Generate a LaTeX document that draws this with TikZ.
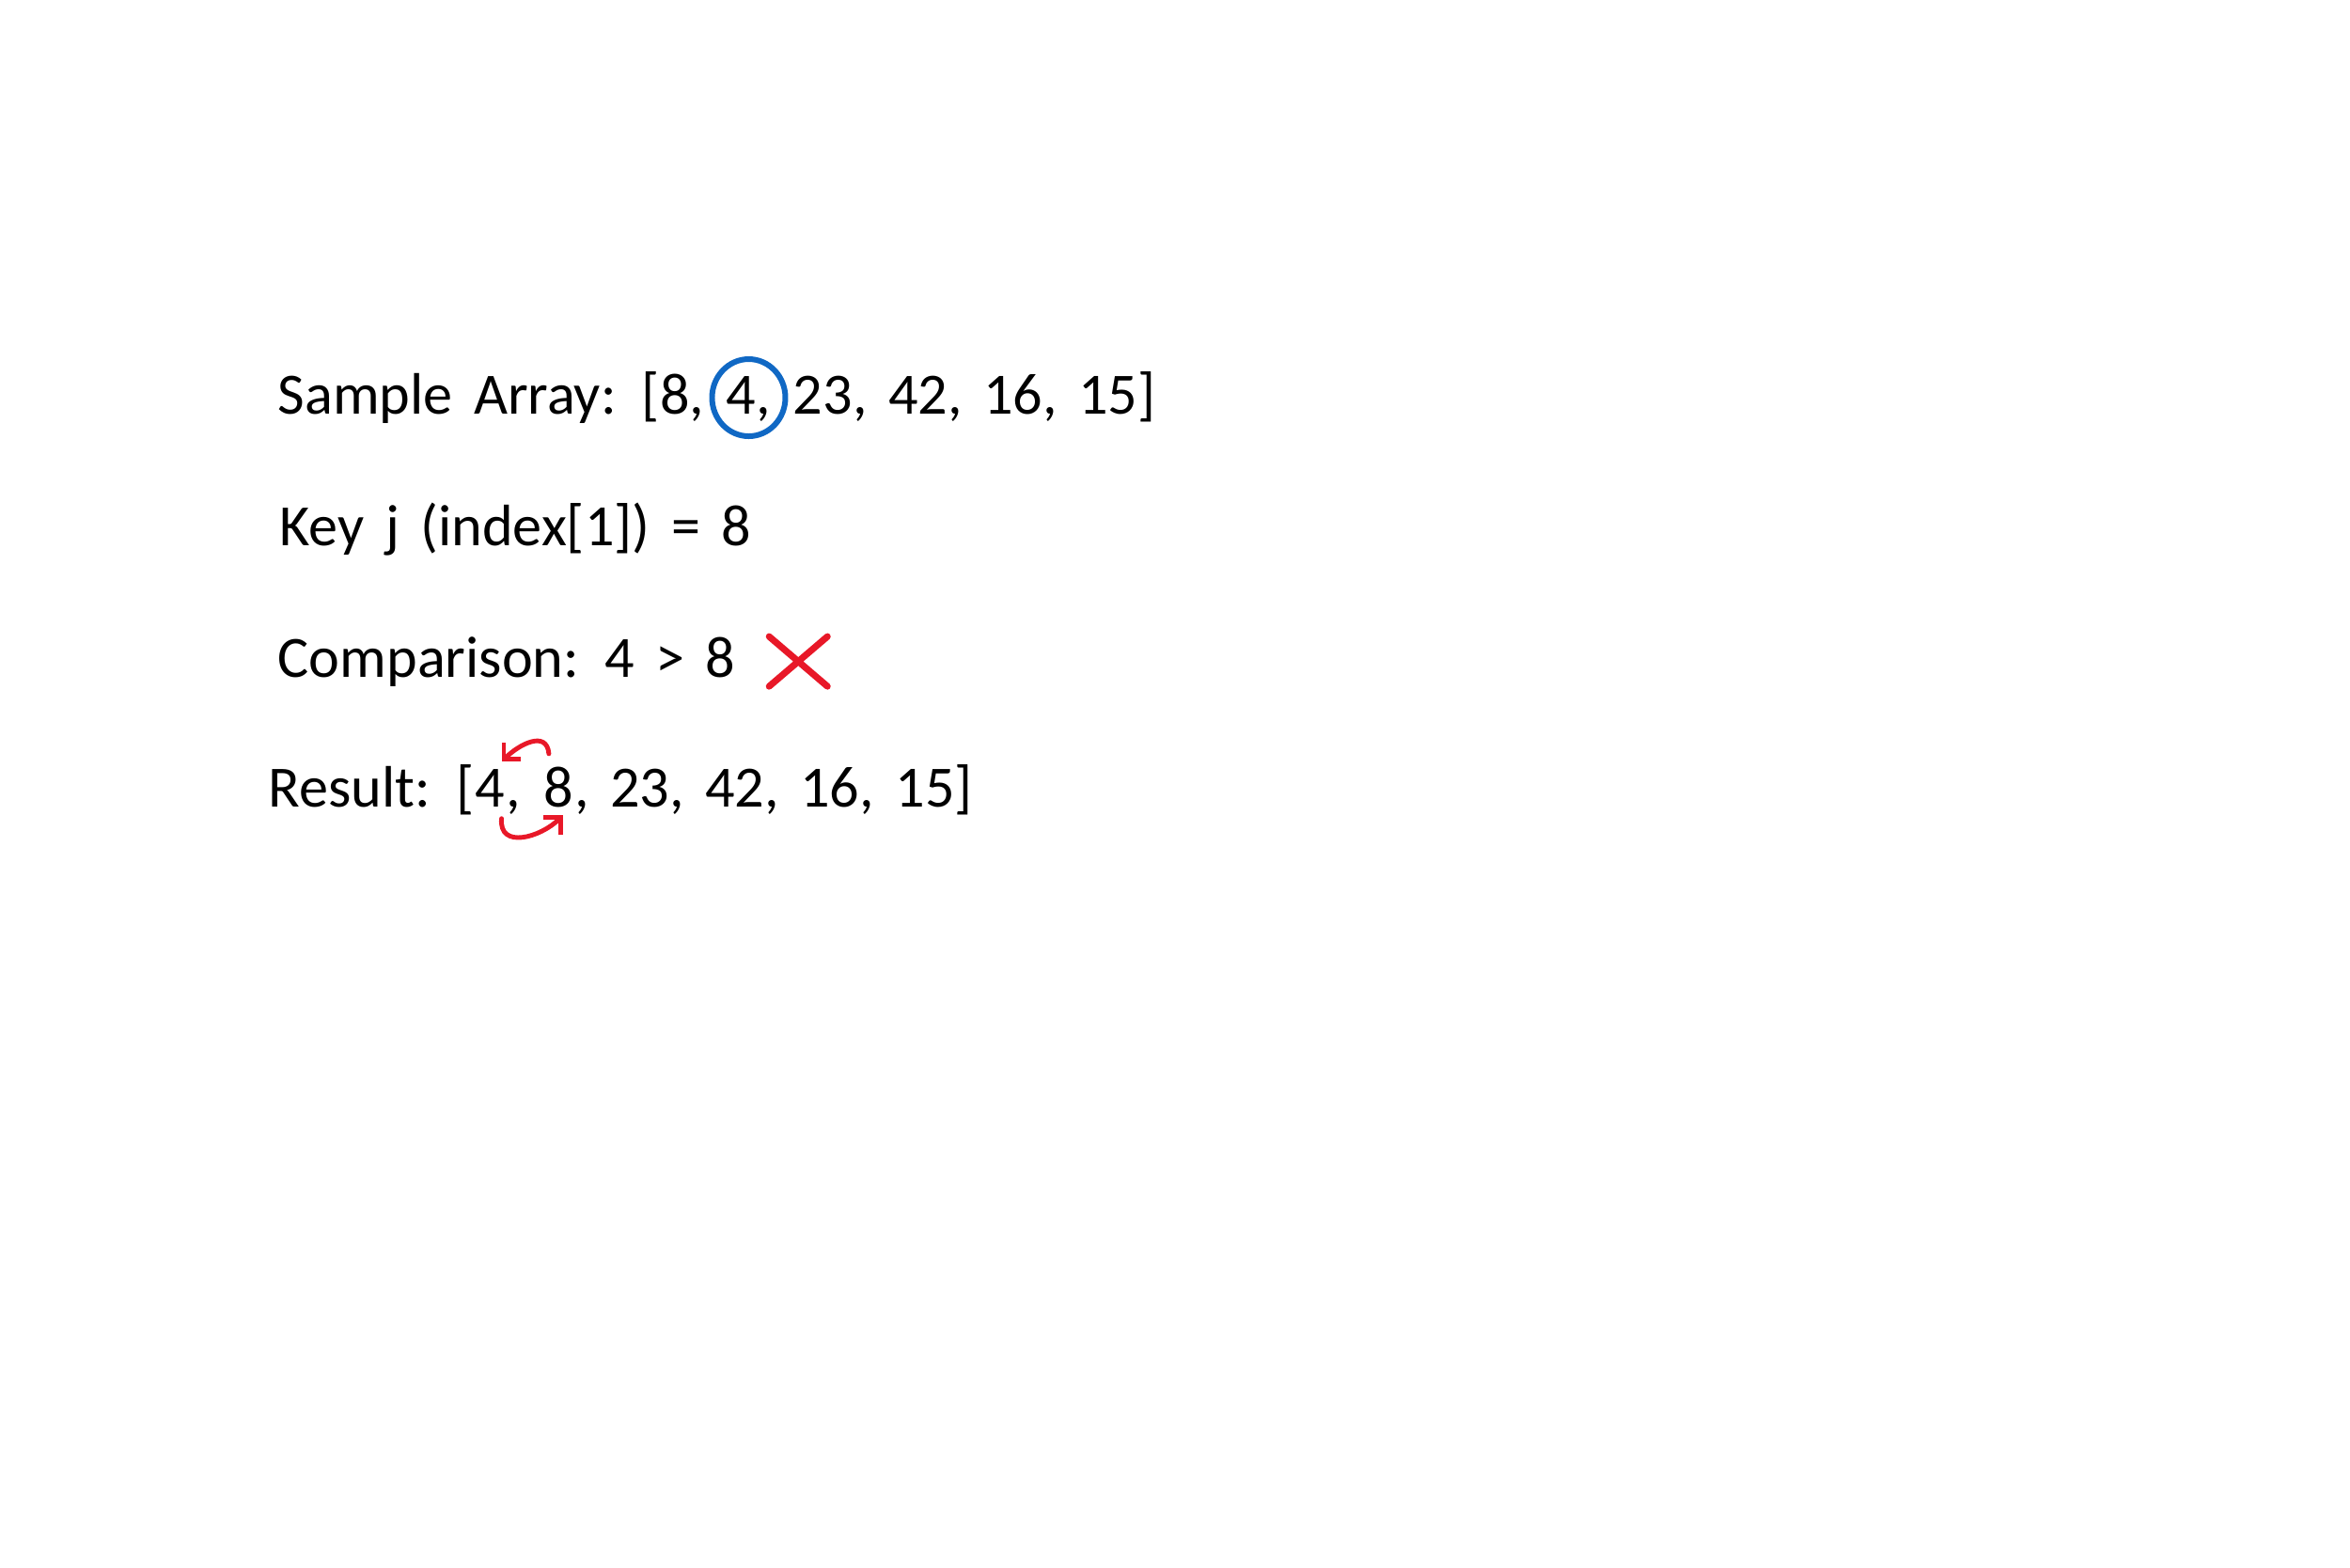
\documentclass[tikz,border=0pt]{standalone}
\usepackage{fontspec}
\setmainfont{Carlito}[WordSpace=1.6]
\usetikzlibrary{arrows.meta,positioning,shapes.geometric,shapes.misc}
\definecolor{ringblue}{RGB}{16,104,196}
\definecolor{markred}{RGB}{232,24,40}

\begin{document}
\begin{tikzpicture}[txt/.style={inner sep=0pt, anchor=base west, font=\fontsize{17.7}{21}\selectfont}, ring/.style={draw=ringblue, line width=1.7pt, ellipse, inner sep=0pt, minimum width=7.8mm, minimum height=8.2mm}, crossmark/.style={cross out, draw=markred, line width=2pt, line cap=round, minimum width=5.5mm, minimum height=4.6mm}, swap/.style={draw=markred, line width=1.4pt, line cap=round, -{Straight Barb[length=1.3mm, width=2.6mm]}}]
\useasboundingbox (0,0) rectangle (25,-16.67);
\node[txt] (sample) at (2.95,-4.40) {Sample Array: [8,\ \null};
\node[txt] (key4) at (sample.base east) {4,};
\node[txt] (rest) at (key4.base east) {\ 23, 42, 16, 15]};
\node[ring] (circ) at ([yshift=1.7mm]key4.base) {};
\node[txt] (keyj) at (2.97,-5.80) {Key j (index[1]) = 8};
\node[txt] (cmp) at (2.95,-7.20) {Comparison: 4 > 8};
\node[crossmark, right=3.5mm of cmp] (nope) {};
\node[txt] (result) at (2.85,-8.58) {Result: [};
\node[txt] (four) at (result.base east) {4};
\node[txt] (gap) at (four.base east) {,\ \null};
\node[txt] (eight) at (gap.base east) {8};
\node[txt] (tail) at (eight.base east) {, 23, 42, 16, 15]};
\draw[swap] ([shift={(-0.1,0.13)}]eight.north) to[out=95, in=45, looseness=1.3] ([shift={(0.12,0.07)}]four.north);
\draw[swap] ([shift={(0.12,-0.12)}]four.south) to[out=-95, in=225, looseness=1.3] ([shift={(0.05,-0.08)}]eight.south);
\end{tikzpicture}
\end{document}
